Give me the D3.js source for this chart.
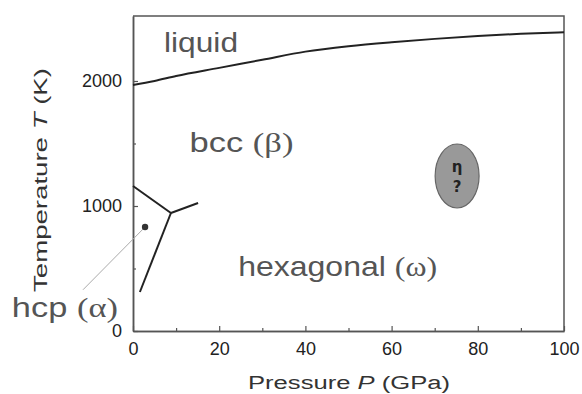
<!DOCTYPE html>
<html>
<head>
<meta charset="utf-8">
<script src="https://cdn.jsdelivr.net/npm/d3@7"></script>
<style>
body { margin: 0; background: #fff; }
svg { display: block; }
</style>
</head>
<body>
<div id="chart"></div>
<script>
// melting line (pressure GPa, temperature K)
var liquidP = [0, 5, 10, 20, 30, 40, 50, 60, 70, 80, 90, 100];
var liquidT = [1968, 2000, 2040, 2105, 2170, 2235, 2278, 2310, 2337, 2360, 2378, 2390];

// solid phase boundaries, meeting at the triple point
var triple = [8.8, 944];
var hcpBcc = [[0, 1160], triple];
var bccOmega = [triple, [15.1, 1024]];
var hcpOmega = [triple, [1.6, 312]];

// ambient hcp point and its leader to the label
var hcpPoint = [2.8, 832];
var hcpLeaderEnd = [-11.6, 330];

// unknown eta phase region
var etaCenter = [75.2, 1240];
var etaRadius = [5.1, 256];

var xTicks = [0, 20, 40, 60, 80, 100];
var xMinor = [10, 30, 50, 70, 90];
var yTicks = [0, 1000, 2000];
var yMinor = [500, 1500];

var phaseNames = ["liquid", "bcc ", "hexagonal ", "hcp "];
var phaseGreek = ["", "(\u03b2)", "(\u03c9)", "(\u03b1)"];
var phaseAt = [[7.2, 2230], [13.1, 1430], [24.4, 440], [-28.1, 110]];
var phaseLen = [74, 104, 199, 106];

var width = 582, height = 394;
var svg = d3.select("#chart").append("svg")
    .attr("width", width)
    .attr("height", height);

var x = d3.scaleLinear().domain([0, 100]).range([133, 564]);
var y = d3.scaleLinear().domain([0, 2520]).range([331, 16]);

var ink = "#222";
var frame = "#555";

// frame: top and right edges
svg.append("path")
    .attr("d", "M" + x(0) + "," + y(2520) + "H" + x(100) + "V" + y(0))
    .attr("fill", "none")
    .attr("stroke", frame)
    .attr("stroke-width", 1.5);

// axes with inward ticks
var xAxis = svg.append("g")
    .attr("transform", "translate(0," + y(0) + ")")
    .call(d3.axisBottom(x).tickValues(xTicks).tickSizeInner(-5).tickSizeOuter(0).tickPadding(11));
var xMinorAxis = svg.append("g")
    .attr("transform", "translate(0," + y(0) + ")")
    .call(d3.axisBottom(x).tickValues(xMinor).tickSizeInner(-3).tickSizeOuter(0).tickFormat(""));
var yAxis = svg.append("g")
    .attr("transform", "translate(" + x(0) + ",0)")
    .call(d3.axisLeft(y).tickValues(yTicks).tickFormat(d3.format("d"))
        .tickSizeInner(-5).tickSizeOuter(0).tickPadding(11));
var yMinorAxis = svg.append("g")
    .attr("transform", "translate(" + x(0) + ",0)")
    .call(d3.axisLeft(y).tickValues(yMinor).tickSizeInner(-3).tickSizeOuter(0).tickFormat(""));

[xAxis, xMinorAxis, yAxis, yMinorAxis].forEach(function (g) {
    g.select(".domain").attr("stroke", frame).attr("stroke-width", 1.5);
    g.selectAll(".tick line").attr("stroke", frame).attr("stroke-width", 1.2);
    g.selectAll(".tick text")
        .attr("fill", ink)
        .style("font-family", "Liberation Sans, Arial, sans-serif")
        .style("font-size", "18px");
});
xAxis.selectAll(".tick text").attr("dy", "0.71em");

// axis titles
var xTitle = svg.append("text")
    .attr("x", 349)
    .attr("y", 389)
    .attr("text-anchor", "middle")
    .attr("textLength", 202)
    .attr("lengthAdjust", "spacingAndGlyphs")
    .attr("fill", "#333")
    .style("font-family", "Liberation Sans, Arial, sans-serif")
    .style("font-size", "18px");
xTitle.append("tspan").text("Pressure ");
xTitle.append("tspan").style("font-style", "italic").text("P");
xTitle.append("tspan").text(" (GPa)");

var yTitle = svg.append("text")
    .attr("transform", "translate(47,180) rotate(-90)")
    .attr("text-anchor", "middle")
    .attr("textLength", 224)
    .attr("lengthAdjust", "spacingAndGlyphs")
    .attr("fill", "#333")
    .style("font-family", "Liberation Sans, Arial, sans-serif")
    .style("font-size", "18px");
yTitle.append("tspan").text("Temperature ");
yTitle.append("tspan").style("font-style", "italic").text("T");
yTitle.append("tspan").text(" (K)");

// lines
var line = d3.line()
    .x(function (d) { return x(d[0]); })
    .y(function (d) { return y(d[1]); });

var liquid = d3.zip(liquidP, liquidT);
svg.append("path")
    .attr("d", line.curve(d3.curveMonotoneX)(liquid))
    .attr("fill", "none")
    .attr("stroke", ink)
    .attr("stroke-width", 2);

line.curve(d3.curveLinear);
[hcpBcc, bccOmega, hcpOmega].forEach(function (seg) {
    svg.append("path")
        .attr("d", line(seg))
        .attr("fill", "none")
        .attr("stroke", ink)
        .attr("stroke-width", 2);
});

svg.append("path")
    .attr("d", line([hcpPoint, hcpLeaderEnd]))
    .attr("fill", "none")
    .attr("stroke", "#aaa")
    .attr("stroke-width", 1);

svg.append("circle")
    .attr("cx", x(hcpPoint[0]))
    .attr("cy", y(hcpPoint[1]))
    .attr("r", 3.2)
    .attr("fill", "#333");

// eta region
svg.append("ellipse")
    .attr("cx", x(etaCenter[0]))
    .attr("cy", y(etaCenter[1]))
    .attr("rx", x(etaRadius[0]) - x(0))
    .attr("ry", y(0) - y(etaRadius[1]))
    .attr("fill", "#999")
    .attr("stroke", "#666")
    .attr("stroke-width", 1.2);

svg.append("text")
    .attr("x", x(etaCenter[0]))
    .attr("y", y(etaCenter[1]) - 4)
    .attr("text-anchor", "middle")
    .attr("fill", "#222")
    .style("font-family", "DejaVu Sans, sans-serif")
    .style("font-size", "15px")
    .style("font-weight", "bold")
    .text("\u03b7");
svg.append("text")
    .attr("x", x(etaCenter[0]))
    .attr("y", y(etaCenter[1]) + 16)
    .attr("text-anchor", "middle")
    .attr("fill", "#222")
    .style("font-family", "DejaVu Sans, sans-serif")
    .style("font-size", "15px")
    .style("font-weight", "bold")
    .text("?");

// phase labels
phaseNames.forEach(function (name, i) {
    var t = svg.append("text")
        .attr("x", x(phaseAt[i][0]))
        .attr("y", y(phaseAt[i][1]))
        .attr("textLength", phaseLen[i])
        .attr("lengthAdjust", "spacingAndGlyphs")
        .attr("fill", "#555")
        .style("font-family", "Liberation Sans, Arial, sans-serif")
        .style("font-size", "28px");
    t.append("tspan").text(name);
    if (phaseGreek[i]) {
        t.append("tspan")
            .style("font-family", "Liberation Serif, serif")
            .style("font-weight", "300")
            .text(phaseGreek[i]);
    }
});
</script>
</body>
</html>
